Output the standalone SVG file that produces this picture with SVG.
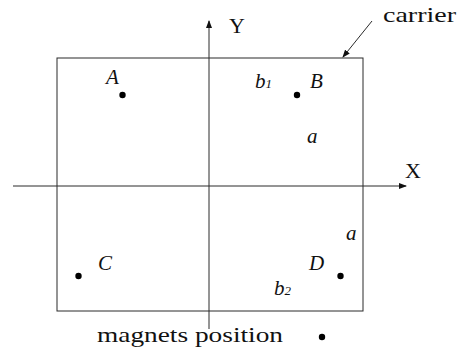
<svg xmlns="http://www.w3.org/2000/svg" width="461" height="352" viewBox="0 0 461 352">
<style>
.ln{stroke:#2a2a2a;stroke-width:1;fill:none}
text{font-family:'Liberation Serif','DejaVu Serif',serif;fill:#111}
.t{font-size:22px}
.i{font-size:21px;font-style:italic}
.sub{font-size:13px}
.dot{fill:#000}
</style>
<defs>
<marker id="ah" markerWidth="8" markerHeight="6" refX="7" refY="3" orient="auto" markerUnits="userSpaceOnUse">
<path d="M0,0 L8,3 L0,6 Z" fill="#111"/>
</marker>
</defs>
<rect width="461" height="352" fill="#fff"/>
<g id="carrier">
<rect class="ln" x="57" y="58" width="306" height="253"/>
<text class="t" x="383" y="22" textLength="73" lengthAdjust="spacingAndGlyphs">carrier</text>
</g>
<g id="connectors">
<line class="ln" x1="13" y1="186" x2="406" y2="186" marker-end="url(#ah)"/>
<line class="ln" x1="209" y1="329" x2="209" y2="21" marker-end="url(#ah)"/>
<line class="ln" x1="372" y1="21" x2="343" y2="57" marker-end="url(#ah)"/>
</g>
<g id="axis-labels">
<text class="t" x="229" y="33">Y</text>
<text class="t" x="405" y="178">X</text>
</g>
<g id="A"><circle class="dot" cx="122.5" cy="95" r="3.2"/><text class="i" x="106" y="84">A</text></g>
<g id="B"><circle class="dot" cx="297" cy="95" r="3.2"/><text class="i" x="310" y="88">B</text></g>
<g id="C"><circle class="dot" cx="78.5" cy="276" r="3.2"/><text class="i" x="98" y="270">C</text></g>
<g id="D"><circle class="dot" cx="340.5" cy="276" r="3.2"/><text class="i" x="309" y="270">D</text></g>
<g id="dims">
<text class="i" x="255" y="88">b<tspan class="sub">1</tspan></text>
<text class="i" x="307" y="143">a</text>
<text class="i" x="346" y="240">a</text>
<text class="i" x="274" y="295">b<tspan class="sub">2</tspan></text>
</g>
<g id="legend">
<text class="t" x="97" y="342" textLength="186" lengthAdjust="spacingAndGlyphs">magnets position</text>
<circle class="dot" cx="322" cy="337" r="3.2"/>
</g>
</svg>
